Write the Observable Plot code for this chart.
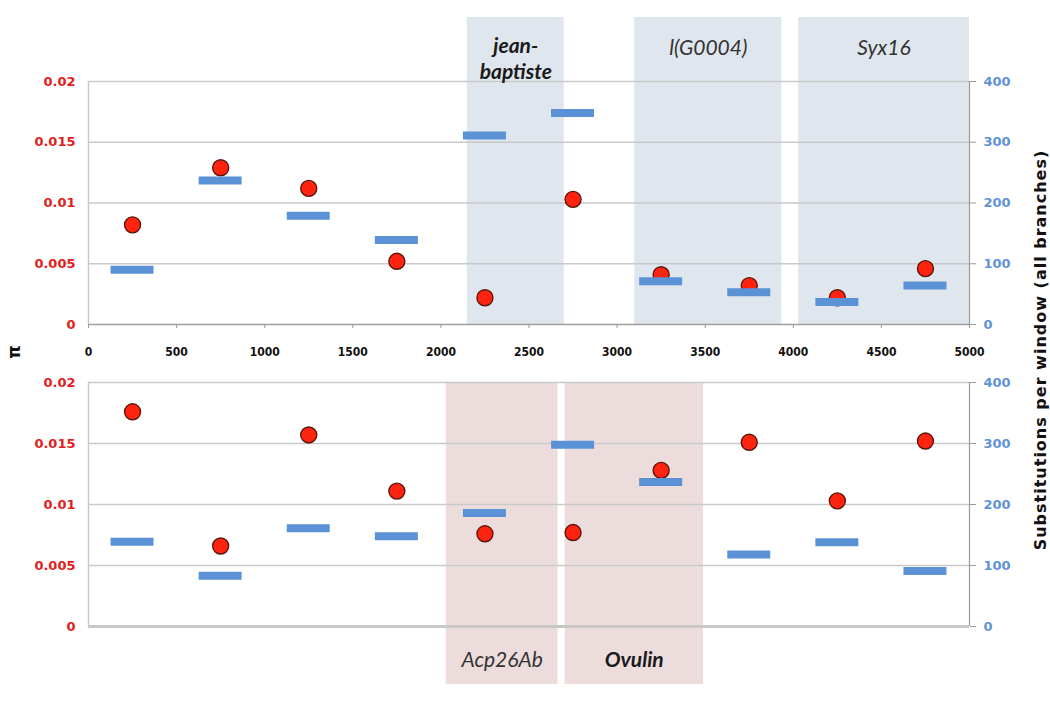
<!DOCTYPE html>
<html><head><meta charset="utf-8">
<script src="https://cdn.jsdelivr.net/npm/d3@7"></script>
<script src="https://cdn.jsdelivr.net/npm/@observablehq/plot@0.6"></script>
<style>
body{margin:0;background:#fff;}
#wrap{position:relative;width:1050px;height:702px;overflow:hidden;background:#fff;}
.layer{position:absolute;left:0;}
.vtitle{position:absolute;font-family:"DejaVu Sans",sans-serif;font-weight:bold;white-space:nowrap;color:#111;transform:translate(-50%,-50%) rotate(-90deg);}
</style></head><body><div id="wrap"></div>
<script>
// ---- data ----
const windowCenters = [250, 750, 1250, 1750, 2250, 2750, 3250, 3750, 4250, 4750];
const topPi    = [0.0082, 0.0129, 0.0112, 0.0052, 0.0022, 0.0103, 0.0041, 0.0032, 0.0022, 0.0046];
const topSubs  = [90, 237, 179, 139, 311, 348, 71, 53, 37, 64];
const bottomPi   = [0.0176, 0.0066, 0.0157, 0.0111, 0.0076, 0.0077, 0.0128, 0.0151, 0.0103, 0.0152];
const bottomSubs = [139, 83, 161, 148, 186, 298, 237, 118, 138, 91];
const piTicks  = [0, 0.005, 0.01, 0.015, 0.02];
const subTicks = [0, 100, 200, 300, 400];
const xTicks   = [0, 500, 1000, 1500, 2000, 2500, 3000, 3500, 4000, 4500, 5000];
const topGeneNames  = ["jean-\nbaptiste", "l(G0004)", "Syx16"];
const topGeneStart  = [2150, 3100, 4030];
const topGeneEnd    = [2700, 3935, 5000];
const bottomGeneNames = ["Acp26Ab", "Ovulin"];
const bottomGeneStart = [2030, 2705];
const bottomGeneEnd   = [2665, 3490];
const barHalfWidth = 122;
const boldGenes = new Set(["jean-\nbaptiste", "Ovulin"]);

// ---- drawing ----
const W = 1050, ML = 88, MR = 81;
const RED = "#e3201b", BLUE = "#5f92d8";
const wrap = document.getElementById("wrap");

function genes(names, starts, ends) {
  return names.map((n, i) => ({name: n, start: starts[i], end: ends[i]}));
}

function addLayer(svg, top) {
  svg.classList.add("layer");
  svg.style.top = top + "px";
  wrap.appendChild(svg);
}

function piPanel({pi, geneList, shadeFill, height, mt, mb, yRange, showX, labelAnchor, boldDy, plainDy}) {
  const pts = windowCenters.map((x, i) => ({x, v: pi[i]}));
  const marks = [
    Plot.rect(geneList, {x1: "start", x2: "end", fill: shadeFill}),
    Plot.ruleY(piTicks.slice(1), {stroke: "#c9c9c9", strokeWidth: 1.5}),
    Plot.ruleX([0], {y1: piTicks[0], y2: piTicks[piTicks.length - 1], stroke: "#c9c9c9", strokeWidth: 1.5}),
    Plot.ruleX([5000], {y1: piTicks[0], y2: piTicks[piTicks.length - 1], stroke: "#9a9a9a", strokeWidth: 1.2}),
    Plot.ruleY([0], {stroke: showX ? "#a0a0a0" : "#c8c8c8", strokeWidth: showX ? 1.5 : 3}),
    Plot.dot(pts, {x: "x", y: "v", r: 8, fill: "#ff2410", stroke: "#5c150c", strokeWidth: 1.4}),
    Plot.text(geneList.filter(g => boldGenes.has(g.name)), {
      x: d => (d.start + d.end) / 2, text: "name", frameAnchor: labelAnchor, dy: boldDy,
      fontFamily: "Lato, sans-serif", fontSize: 21, fontStyle: "italic", fontWeight: "bold", fill: "#1a1a1a", lineHeight: 1.2
    }),
    Plot.text(geneList.filter(g => !boldGenes.has(g.name)), {
      x: d => (d.start + d.end) / 2, text: "name", frameAnchor: labelAnchor, dy: plainDy,
      fontFamily: "Lato, sans-serif", fontSize: 21, fontStyle: "italic", fill: "#333"
    }),
    Plot.axisY(piTicks, {anchor: "left", tickSize: 0, tickPadding: 13, label: null,
      tickFormat: d => String(d), fill: RED, fontWeight: "bold", fontSize: 13, fontFamily: "DejaVu Sans, sans-serif"})
  ];
  if (showX) {
    marks.push(Plot.axisX(xTicks, {anchor: "bottom", tickSize: 4, tickPadding: 19, label: null, stroke: "#999",
      tickFormat: d => String(d), fill: "#111", fontWeight: "bold", fontSize: 12, fontFamily: "DejaVu Sans Condensed, DejaVu Sans, sans-serif"}));
  }
  return Plot.plot({
    width: W, height, marginLeft: ML, marginRight: MR, marginTop: mt, marginBottom: mb,
    style: {background: "transparent", overflow: "visible"},
    x: {domain: [0, 5000], axis: null},
    y: {domain: [0, 0.02], range: yRange, axis: null},
    marks
  });
}

function subsPanel({subs, height, mt, mb, yRange}) {
  const bars = windowCenters.map((x, i) => ({x, v: subs[i]}));
  return Plot.plot({
    width: W, height, marginLeft: ML, marginRight: MR, marginTop: mt, marginBottom: mb,
    style: {background: "transparent", overflow: "visible"},
    x: {domain: [0, 5000], axis: null},
    y: {domain: [0, 400], range: yRange, axis: null},
    marks: [
      Plot.ruleY(bars, {y: "v", x1: d => d.x - barHalfWidth, x2: d => d.x + barHalfWidth, stroke: "#5b92d6", strokeWidth: 8}),
      Plot.axisY(subTicks, {anchor: "right", tickSize: 6, tickPadding: 8, label: null, stroke: "#9a9a9a",
        tickFormat: d => String(d), fill: BLUE, fontWeight: "bold", fontSize: 13, fontFamily: "DejaVu Sans, sans-serif"})
    ]
  });
}

// top panel (SVG spans page y 0..370)
addLayer(piPanel({pi: topPi, geneList: genes(topGeneNames, topGeneStart, topGeneEnd), shadeFill: "#dfe6ee",
  height: 370, mt: 17, mb: 46, yRange: [324, 81], showX: true, labelAnchor: "top", boldDy: 18, plainDy: 23}), 0);
addLayer(subsPanel({subs: topSubs, height: 370, mt: 17, mb: 46, yRange: [324, 81]}), 0);

// bottom panel (SVG spans page y 370..702)
addLayer(piPanel({pi: bottomPi, geneList: genes(bottomGeneNames, bottomGeneStart, bottomGeneEnd), shadeFill: "#ecdcdc",
  height: 332, mt: 12, mb: 18, yRange: [256, 12], showX: false, labelAnchor: "bottom", boldDy: -18, plainDy: -18}), 370);
addLayer(subsPanel({subs: bottomSubs, height: 332, mt: 12, mb: 18, yRange: [256, 12]}), 370);

// axis titles
const piT = document.createElement("div");
piT.className = "vtitle"; piT.textContent = "π";
piT.style.left = "14px"; piT.style.top = "352px"; piT.style.fontSize = "17px";
wrap.appendChild(piT);
const subT = document.createElement("div");
subT.className = "vtitle"; subT.textContent = "Substitutions per window (all branches)";
subT.style.left = "1040px"; subT.style.top = "350px"; subT.style.fontSize = "16px"; subT.style.letterSpacing = "1px";
wrap.appendChild(subT);
</script>
</body></html>
